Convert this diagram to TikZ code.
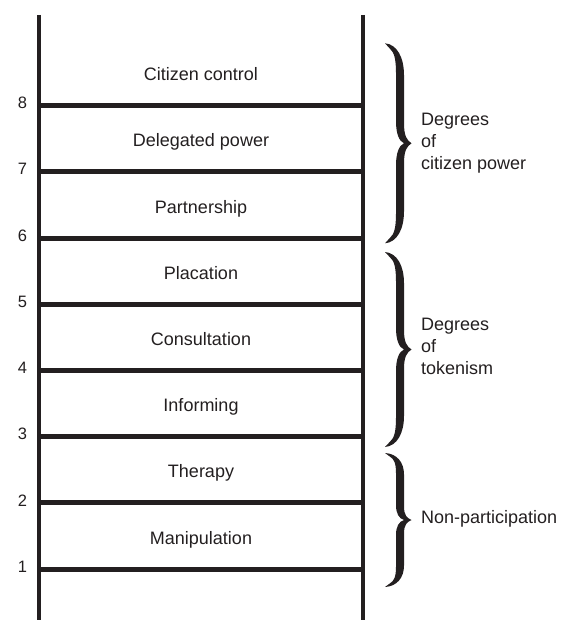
\documentclass[tikz,border=0pt]{standalone}
\usepackage{fontspec}
\setmainfont{Liberation Sans}
\definecolor{ink}{HTML}{231F20}
\newcommand\ladderbrace[3]{%
  \fill[ink, shift={(#1,#2)}, yscale=#3]
    (26.5,0) .. controls (22,-0.03) and (19,-0.07) .. (19,-0.2)
    -- (19,-0.68) .. controls (19,-0.86) and (12,-0.99) .. (0,-1)
    -- (5,-0.945) .. controls (9,-0.91) and (11,-0.85) .. (11,-0.7)
    -- (11,-0.22) .. controls (11,-0.1) and (14,-0.02) .. (19,0)
    .. controls (14,0.02) and (11,0.1) .. (11,0.22)
    -- (11,0.7) .. controls (11,0.85) and (9,0.91) .. (5,0.945)
    -- (0,1) .. controls (12,0.99) and (19,0.86) .. (19,0.68)
    -- (19,0.2) .. controls (19,0.07) and (22,0.03) .. (26.5,0) -- cycle;}
\begin{document}
\begin{tikzpicture}[x=1pt,y=-1pt,
  rail/.style={line width=4.5pt, draw=ink},
  rung/.style={line width=5pt, draw=ink},
  lab/.style={font=\fontsize{18}{22}\selectfont, text=ink, inner sep=0pt},
  num/.style={font=\fontsize{16.5}{19}\selectfont, text=ink, inner sep=0pt},
  grp/.style={font=\fontsize{18}{22}\selectfont, text=ink, inner sep=0pt, anchor=west, align=left}]
\useasboundingbox (0,0) rectangle (567,620);
\coordinate (Ltop) at (39,15); \coordinate (Lbot) at (39,620);
\coordinate (Rtop) at (363,15); \coordinate (Rbot) at (363,620);
\draw[rail] (Ltop) -- (Lbot);
\draw[rail] (Rtop) -- (Rbot);
\foreach \k/\lbl in {1/Manipulation,2/Therapy,3/Informing,4/Consultation,5/Placation,6/Partnership,7/Delegated power,8/Citizen control} {
  \pgfmathsetmacro\yy{569-(\k-1)*66.2}
  \coordinate (rl\k) at (39,\yy);
  \coordinate (rr\k) at (363,\yy);
  \draw[rung] (rl\k) -- (rr\k);
  \node[num] (n\k) at (22.5,\yy-2.5) {\k};
  \node[lab, anchor=base] (t\k) at (201,\yy-25) {\lbl};
}
\ladderbrace{385}{143.3}{100}
\ladderbrace{385}{349.5}{97.5}
\ladderbrace{385}{520}{67}
\node[grp] (g1) at (421,143) {Degrees\\of\\citizen power};
\node[grp] (g2) at (421,346) {Degrees\\of\\tokenism};
\node[grp] (g3) at (421,519) {Non-participation};
\end{tikzpicture}
\end{document}
